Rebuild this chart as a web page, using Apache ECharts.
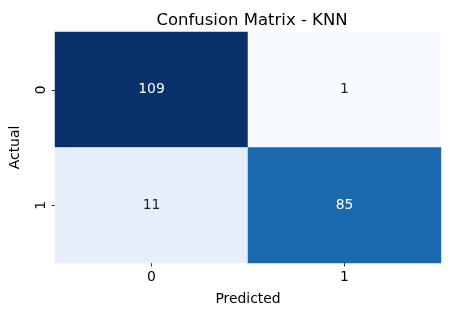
<!DOCTYPE html>
<html><head><meta charset="utf-8">
<script src="https://cdn.jsdelivr.net/npm/echarts@6/dist/echarts.min.js"></script>
<style>html,body{margin:0;padding:0;background:#fff}#c{width:450px;height:316px}</style>
</head><body><div id="c"></div>
<script>
const xCategories = ['0', '1'];
const yCategories = ['0', '1'];
const cellValues = [
  [0, 0, 109], [1, 0, 1],
  [0, 1, 11], [1, 1, 85]
];
const blues = ['#f7fbff','#deebf7','#c6dbef','#9ecae1','#6baed6','#4292c6','#2171b5','#08519c','#08306b'];
const vals = cellValues.map(d => d[2]);
const vmin = Math.min(...vals), vmax = Math.max(...vals);
const font = 'DejaVu Sans';
const data = cellValues.map(d => {
  const t = (d[2] - vmin) / (vmax - vmin);
  return { value: d, label: { color: t > 0.55 ? '#ffffff' : '#262626' } };
});
const chart = echarts.init(document.getElementById('c'), null, {renderer: 'canvas'});
chart.setOption({
  animation: false,
  backgroundColor: '#ffffff',
  title: {
    text: 'Confusion Matrix - KNN', left: 247, top: 7, textAlign: 'center',
    textStyle: {fontFamily: font, fontSize: 16.5, fontWeight: 'normal', color: '#000'}
  },
  grid: {left: 53, right: 9, top: 32, bottom: 53},
  xAxis: {
    type: 'category', data: xCategories,
    name: 'Predicted', nameLocation: 'middle', nameGap: 29,
    nameTextStyle: {fontFamily: font, fontSize: 13.9, color: '#000'},
    axisLine: {show: false},
    axisTick: {show: true, alignWithLabel: true, length: 3.5, lineStyle: {color: '#000', width: 0.8}},
    axisLabel: {fontFamily: font, fontSize: 13.9, color: '#000', margin: 7},
    splitLine: {show: false}, splitArea: {show: false}
  },
  yAxis: {
    type: 'category', data: yCategories, inverse: true,
    name: 'Actual', nameLocation: 'middle', nameGap: 33, nameRotate: 90,
    nameTextStyle: {fontFamily: font, fontSize: 13.9, color: '#000'},
    axisLine: {show: false},
    axisTick: {show: true, alignWithLabel: true, length: 3.5, lineStyle: {color: '#000', width: 0.8}},
    axisLabel: {fontFamily: font, fontSize: 13.9, color: '#000', margin: 7, rotate: 90},
    splitLine: {show: false}, splitArea: {show: false}
  },
  visualMap: {
    show: false, min: vmin, max: vmax, dimension: 2,
    inRange: {color: blues}
  },
  series: [{
    type: 'heatmap', data: data,
    label: {show: true, fontFamily: font, fontSize: 13.9},
    itemStyle: {borderWidth: 0},
    emphasis: {disabled: true}
  }]
});
</script></body></html>
